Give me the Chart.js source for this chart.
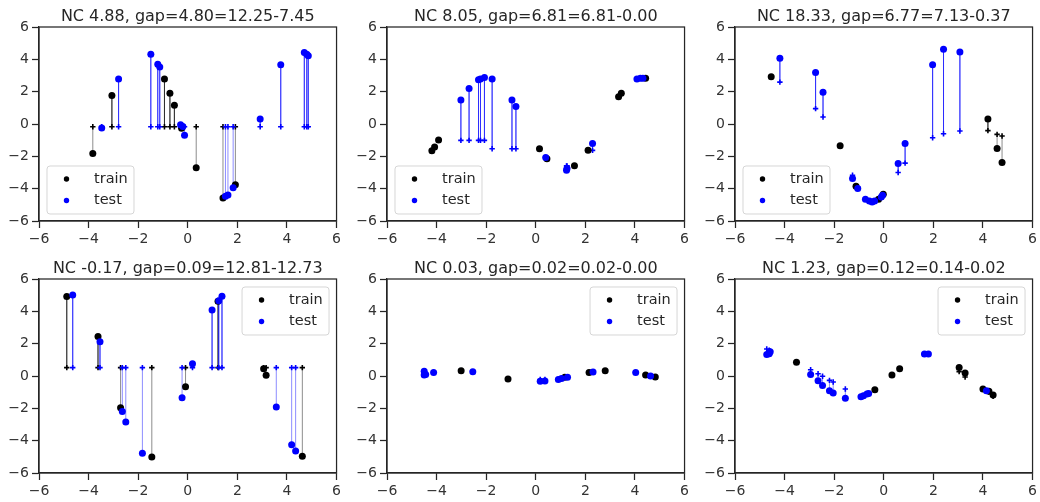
<!DOCTYPE html>
<html>
<head>
<meta charset="utf-8">
<script src="https://cdn.jsdelivr.net/npm/chart.js@4/dist/chart.umd.min.js"></script>
<style>
  html, body { margin: 0; padding: 0; background: #fff; }
  #fig { position: relative; width: 1040px; height: 502px; overflow: hidden; }
  #fig canvas { position: absolute; }
</style>
</head>
<body>
<div id="fig"></div>
<script>
// ── Data: [x, y, prediction] per point ───────────────────────────────────────

const TITLES = [
  'NC 4.88, gap=4.80=12.25-7.45',
  'NC 8.05, gap=6.81=6.81-0.00',
  'NC 18.33, gap=6.77=7.13-0.37',
  'NC -0.17, gap=0.09=12.81-12.73',
  'NC 0.03, gap=0.02=0.02-0.00',
  'NC 1.23, gap=0.12=0.14-0.02',
];
const TICKS = [-6, -4, -2, 0, 2, 4, 6];

const p1Train = [[-3.83,-1.82,-0.17],[-3.06,1.76,-0.17],[-0.94,2.79,-0.17],[-0.72,1.90,-0.17],[-0.54,1.16,-0.17],
  [-0.25,-0.27,-0.17],[0.34,-2.71,-0.17],[1.42,-4.57,-0.17],[1.92,-3.75,-0.17]];
const p1Test = [[-3.47,-0.25,-0.17],[-2.79,2.79,-0.17],[-1.49,4.32,-0.17],[-1.21,3.70,-0.17],[-1.13,3.52,-0.17],
  [-0.29,-0.04,-0.17],[-0.20,-0.16,-0.17],[-0.13,-0.70,-0.17],[1.52,-4.47,-0.17],[1.62,-4.39,-0.17],
  [1.83,-3.95,-0.17],[2.92,0.31,-0.17],[3.75,3.66,-0.17],[4.70,4.43,-0.17],[4.80,4.32,-0.17],[4.86,4.22,-0.17]];

const p2Train = [[-4.19,-1.66,-1.66],[-4.08,-1.43,-1.43],[-3.92,-0.99,-0.99],[0.15,-1.53,-1.53],[0.45,-2.15,-2.15],
  [1.56,-2.59,-2.59],[2.11,-1.63,-1.63],[3.34,1.68,1.68],[3.45,1.90,1.90],[4.43,2.83,2.83]];
const p2Test = [[-3.02,1.49,-1.01],[-2.69,2.19,-1.01],[-2.31,2.73,-1.01],[-2.23,2.79,-1.01],[-2.07,2.88,-1.01],
  [-1.76,2.79,-1.53],[-0.96,1.49,-1.53],[-0.80,1.08,-1.53],[0.40,-2.07,-2.10],[1.24,-2.86,-2.59],
  [1.26,-2.75,-2.59],[2.29,-1.20,-1.63],[4.08,2.79,2.80],[4.22,2.83,2.82],[4.32,2.83,2.83]];

const p3Train = [[-4.54,2.92,2.92],[-1.76,-1.34,-1.34],[-1.12,-3.85,-3.85],[-0.21,-4.66,-4.62],[-0.02,-4.35,-4.35],
  [4.20,0.31,-0.41],[4.57,-1.51,-0.64],[4.77,-2.38,-0.74]];
const p3Test = [[-4.19,4.06,2.59],[-2.75,3.19,0.95],[-2.45,1.97,0.43],[-1.26,-3.37,-3.17],[-1.05,-3.99,-3.90],
  [-0.74,-4.66,-4.66],[-0.58,-4.76,-4.76],[-0.47,-4.82,-4.80],[-0.37,-4.76,-4.75],[-0.10,-4.51,-4.50],
  [-0.05,-4.41,-4.40],[0.58,-2.44,-3.00],[0.86,-1.20,-2.42],[1.97,3.66,-0.85],[2.41,4.63,-0.60],[3.07,4.45,-0.43]];

const p4Train = [[-4.88,4.91,0.52],[-3.62,2.45,0.52],[-2.71,-1.96,0.52],[-1.45,-5.01,0.52],[-0.09,-0.66,0.52],
  [1.22,4.62,0.52],[3.06,0.45,0.52],[3.16,0.04,0.52],[4.62,-4.97,0.52]];
const p4Test = [[-4.64,5.01,0.52],[-3.54,2.12,0.52],[-2.64,-2.19,0.52],[-2.50,-2.85,0.52],[-1.83,-4.78,0.52],
  [-0.23,-1.34,0.52],[0.19,0.76,0.52],[0.98,4.08,0.52],[1.25,4.66,0.52],[1.38,4.93,0.52],
  [3.57,-1.92,0.52],[4.19,-4.25,0.52],[4.35,-4.64,0.52]];

const p5Train = [[-3.01,0.33,0.33],[-1.12,-0.19,-0.19],[1.17,-0.08,-0.08],[2.15,0.21,0.21],[2.80,0.33,0.33],
  [4.43,0.06,0.06],[4.82,-0.06,-0.06]];
const p5Test = [[-4.50,0.29,0.29],[-4.50,0.06,0.06],[-4.44,0.10,0.10],[-4.12,0.21,0.21],[-2.54,0.27,0.27],
  [0.18,-0.33,-0.22],[0.37,-0.31,-0.22],[0.91,-0.21,-0.21],[1.04,-0.16,-0.16],[1.28,-0.08,-0.08],
  [2.31,0.25,0.25],[4.03,0.21,0.21],[4.63,0.00,0.00]];

const p6Train = [[-3.52,0.85,0.85],[-0.36,-0.85,-0.85],[0.33,0.06,0.06],[0.64,0.45,0.45],[3.04,0.52,0.27],
  [3.28,0.19,-0.06],[4.00,-0.80,-0.80],[4.24,-0.95,-1.00],[4.41,-1.18,-1.25]];
const p6Test = [[-4.72,1.33,1.67],[-4.62,1.38,1.60],[-4.58,1.50,1.55],[-2.95,0.10,0.39],[-2.65,-0.29,0.14],
  [-2.47,-0.58,-0.02],[-2.19,-0.91,-0.27],[-2.04,-1.05,-0.37],[-1.55,-1.38,-0.80],[-0.92,-1.28,-1.28],
  [-0.82,-1.22,-1.22],[-0.68,-1.11,-1.11],[-0.61,-1.09,-1.09],[1.64,1.36,1.36],[1.80,1.36,1.36],[4.14,-0.91,-0.91]];

const TRAIN = [p1Train, p2Train, p3Train, p4Train, p5Train, p6Train];
const TEST  = [p1Test,  p2Test,  p3Test,  p4Test,  p5Test,  p6Test];
const LEGEND_POS = ['lower left', 'lower left', 'lower left', 'upper right', 'upper right', 'upper right'];

// ── Style ────────────────────────────────────────────────────────────────────

const INK   = '#262626';
const BLUE  = '#0000ff';
const BLACK = '#000000';
const FONT  = '"DejaVu Sans", sans-serif';

const CANVAS_W = 344, CANVAS_H = 250;
const COL_LEFT = [0, 348, 696];
const ROW_TOP  = [0, 252];

function fmtTick(v) {
  return v < 0 ? '\u2212' + Math.abs(v) : String(v);
}

function segments(rows) {
  const out = [];
  rows.forEach(([x, y, p]) => {
    out.push({ x, y }, { x, y: p }, { x, y: null });
  });
  return out;
}

// ── Plugins: frame, title, legend ────────────────────────────────────────────

const framePlugin = {
  id: 'frame',
  afterDatasetsDraw(chart) {
    const { ctx, chartArea: a } = chart;
    ctx.save();
    ctx.strokeStyle = INK;
    ctx.lineWidth = 1.25;
    ctx.strokeRect(a.left, a.top, a.right - a.left, a.bottom - a.top);
    ctx.restore();
  },
};

const titlePlugin = {
  id: 'ptitle',
  afterDraw(chart, args, opts) {
    const { ctx, chartArea: a } = chart;
    ctx.save();
    ctx.fillStyle = INK;
    ctx.font = `16px ${FONT}`;
    ctx.textAlign = 'center';
    ctx.textBaseline = 'alphabetic';
    ctx.fillText(opts.text, (a.left + a.right) / 2, a.top - 6.5);
    ctx.restore();
  },
};

const legendPlugin = {
  id: 'plegend',
  afterDraw(chart, args, opts) {
    const { ctx, chartArea: a } = chart;
    const w = 87, h = 48;
    const x = opts.pos === 'lower left' ? a.left + 7.5 : a.right - 8 - w;
    const y = opts.pos === 'lower left' ? a.bottom - 7.5 - h : a.top + 7.5;
    ctx.save();
    ctx.fillStyle = 'rgba(255,255,255,0.8)';
    ctx.strokeStyle = 'rgba(204,204,204,0.8)';
    ctx.lineWidth = 1;
    ctx.beginPath();
    ctx.roundRect(x + 0.5, y + 0.5, w, h, 3);
    ctx.fill();
    ctx.stroke();
    [['train', BLACK, 13.5], ['test', BLUE, 35]].forEach(([label, color, dy]) => {
      ctx.fillStyle = color;
      ctx.beginPath();
      ctx.arc(x + 20, y + dy, 2.7, 0, Math.PI * 2);
      ctx.fill();
      ctx.fillStyle = INK;
      ctx.font = `14.5px ${FONT}`;
      ctx.textAlign = 'left';
      ctx.textBaseline = 'middle';
      ctx.fillText(label, x + 47.5, y + dy);
    });
    ctx.restore();
  },
};

// ── Panels ───────────────────────────────────────────────────────────────────

function axis(pos) {
  return {
    type: 'linear',
    position: pos,
    min: -6, max: 6,
    afterBuildTicks: s => { s.ticks = TICKS.map(v => ({ value: v })); },
    afterFit: s => { if (pos === 'left') s.width = 39; else s.height = 29; },
    grid: { drawOnChartArea: false, drawTicks: true, tickLength: 7, tickColor: INK, tickWidth: 1.25 },
    border: { display: true, color: INK, width: 1.25 },
    ticks: {
      color: '#333333', padding: 3, autoSkip: false, maxRotation: 0,
      font: { family: FONT, size: 14 },
      callback: v => fmtTick(v),
    },
  };
}

function mkPanel(i) {
  const canvas = document.createElement('canvas');
  canvas.width = CANVAS_W;
  canvas.height = CANVAS_H;
  canvas.style.left = COL_LEFT[i % 3] + 'px';
  canvas.style.top = ROW_TOP[Math.floor(i / 3)] + 'px';
  document.getElementById('fig').appendChild(canvas);

  const train = TRAIN[i], test = TEST[i];
  const dot = (rows, color, order) => ({
    data: rows.map(([x, y]) => ({ x, y })),
    pointRadius: 3.5, pointBackgroundColor: color, pointBorderWidth: 0, order,
  });
  const cross = (rows, color, order) => ({
    data: rows.map(([x, , p]) => ({ x, y: p })),
    pointStyle: 'cross', pointRadius: 2.7, pointBorderColor: color, pointBorderWidth: 1.6, order,
  });
  const stem = (rows, color, order) => ({
    data: segments(rows), showLine: true, spanGaps: false,
    pointRadius: 0, borderColor: color, borderWidth: 1, order,
  });

  new Chart(canvas, {
    type: 'scatter',
    data: {
      datasets: [
        dot(test, BLUE, 1),
        dot(train, BLACK, 2),
        cross(test, BLUE, 3),
        cross(train, BLACK, 4),
        stem(test, 'rgba(0,0,255,0.45)', 5),
        stem(train, 'rgba(0,0,0,0.45)', 6),
      ],
    },
    options: {
      responsive: false,
      animation: false,
      devicePixelRatio: 1,
      layout: { autoPadding: false, padding: { left: 0, top: 27, right: 6, bottom: 0 } },
      plugins: {
        legend: { display: false },
        tooltip: { enabled: false },
        ptitle: { text: TITLES[i] },
        plegend: { pos: LEGEND_POS[i] },
      },
      scales: { x: axis('bottom'), y: axis('left') },
    },
    plugins: [framePlugin, titlePlugin, legendPlugin],
  });
}

for (let i = 0; i < 6; i++) mkPanel(i);
</script>
</body>
</html>
